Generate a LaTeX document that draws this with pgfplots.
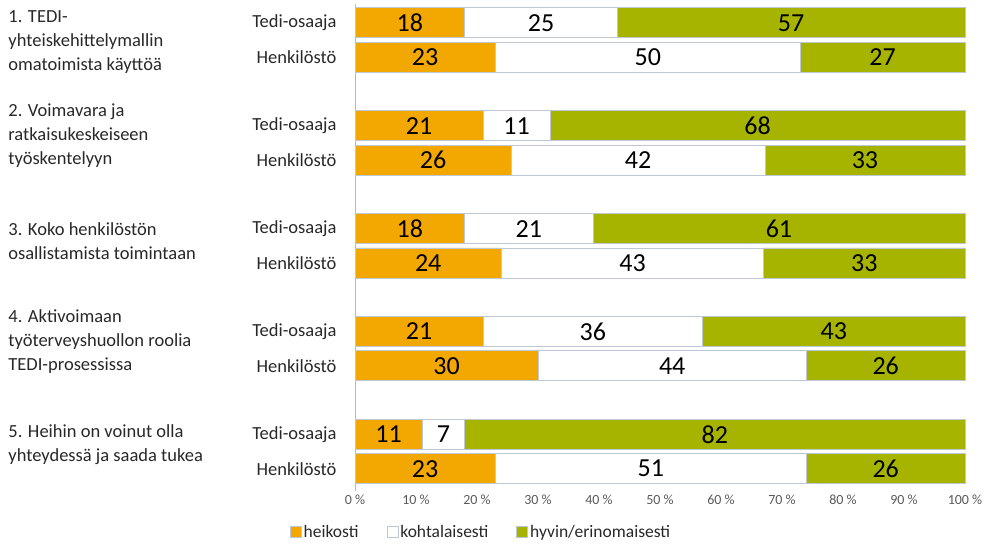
\documentclass[border=0pt]{standalone}
\usepackage{pgfplots}
\usepackage{pgfplotstable}
\pgfplotsset{compat=1.18}
\usepackage{fontspec}
\setmainfont{Carlito}

\definecolor{heik}{RGB}{242,168,0}
\definecolor{hyvin}{RGB}{166,180,0}
\definecolor{barline}{RGB}{190,200,212}
\definecolor{txt}{RGB}{40,40,40}
\definecolor{ticktxt}{RGB}{90,90,90}

% y: 3*group for Tedi-osaaja, 3*group+1 for Henkilöstö
\pgfplotstableread{
y v
0 18
1 23
3 21
4 25.6
6 18
7 24
9 21
10 30
12 11
13 23
}\heikosti

\pgfplotstableread{
y v
0 25
1 50
3 11
4 41.6
6 21
7 43
9 36
10 44
12 7
13 51
}\kohtalaisesti

\pgfplotstableread{
y v
0 57
1 27
3 68
4 32.8
6 61
7 33
9 43
10 26
12 82
13 26
}\hyvin

\begin{document}
\begin{tikzpicture}
\useasboundingbox (0,0) rectangle (990pt,544pt);
\begin{axis}[
    at={(355pt,53pt)}, anchor=south west,
    scale only axis,
    width=610pt, height=487pt,
    xbar stacked,
    bar width=30pt,
    xmin=0, xmax=100,
    ymin=-0.55, ymax=13.65,
    y dir=reverse,
    clip=false,
    axis line style={draw=none},
    major tick length=0pt,
    /pgf/number format/assume math mode=true,
    xtick={0,10,...,100},
    xticklabels={0 \%,10 \%,20 \%,30 \%,40 \%,50 \%,60 \%,70 \%,80 \%,90 \%,100 \%},
    xticklabel style={font=\fontsize{14}{16}\selectfont, text=ticktxt},
    ytick={0,1,3,4,6,7,9,10,12,13},
    yticklabels={Tedi-osaaja,Henkilöstö,Tedi-osaaja,Henkilöstö,Tedi-osaaja,Henkilöstö,Tedi-osaaja,Henkilöstö,Tedi-osaaja,Henkilöstö},
    yticklabel style={font=\fontsize{18.5}{22}\selectfont, text=txt, anchor=east, xshift=-15pt},
    point meta=explicit,
    nodes near coords={\pgfmathprintnumber[fixed,precision=0,assume math mode=true]{\pgfplotspointmeta}},
    every node near coord/.append style={font=\fontsize{26}{30}\selectfont, text=black},
    legend columns=3,
    legend style={draw=none, fill=none, at={(-0.112,-0.084)}, anchor=west,
        font=\fontsize{17.5}{20}\selectfont, text=txt,
        /tikz/every even column/.append style={column sep=26pt}},
    legend image code/.code={\draw[#1, draw=barline, line width=0.8pt] (0pt,-5.5pt) rectangle (11pt,5.5pt);},
    every axis plot/.append style={draw=barline, line width=0.8pt},
]
\addplot[fill=heik] table[x=v, y=y, meta=v] {\heikosti};
\addplot[fill=white] table[x=v, y=y, meta=v] {\kohtalaisesti};
\addplot[fill=hyvin] table[x=v, y=y, meta=v] {\hyvin};
\legend{heikosti, kohtalaisesti, hyvin/erinomaisesti}

\draw[gray!55, line width=0.8pt] (rel axis cs:0,0) -- (rel axis cs:0,1);

\node[anchor=west, align=left, text=txt, font=\fontsize{18.5}{24}\selectfont] at (axis cs:-57.4,0.55) {1. TEDI-\\yhteiskehittelymallin\\omatoimista käyttöä};
\node[anchor=west, align=left, text=txt, font=\fontsize{18.5}{24}\selectfont] at (axis cs:-57.4,3.29) {2. Voimavara ja\\ratkaisukeskeiseen\\työskentelyyn};
\node[anchor=west, align=left, text=txt, font=\fontsize{18.5}{24}\selectfont] at (axis cs:-57.4,6.35) {3. Koko henkilöstön\\osallistamista toimintaan};
\node[anchor=west, align=left, text=txt, font=\fontsize{18.5}{24}\selectfont] at (axis cs:-57.4,9.30) {4. Aktivoimaan\\työterveyshuollon roolia\\TEDI-prosessissa};
\node[anchor=west, align=left, text=txt, font=\fontsize{18.5}{24}\selectfont] at (axis cs:-57.4,12.30) {5. Heihin on voinut olla\\yhteydessä ja saada tukea};
\end{axis}
\end{tikzpicture}
\end{document}
